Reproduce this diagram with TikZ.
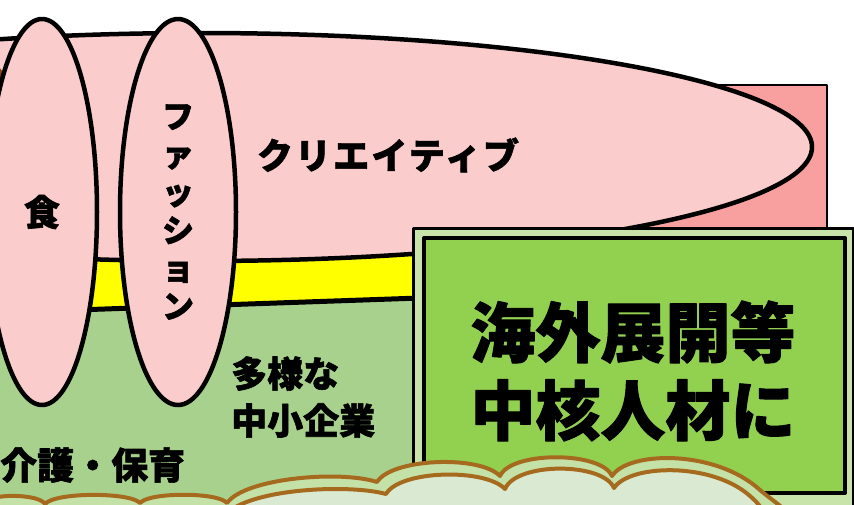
\documentclass[tikz,border=0pt]{standalone}
\usepackage{fontspec}
\usetikzlibrary{shapes.geometric}
\newfontfamily\jp{Noto Sans CJK JP}[BoldFeatures={FakeBold=1.6}]
\definecolor{pinkL}{RGB}{250,204,204}
\definecolor{salmon}{RGB}{248,160,160}
\definecolor{greenL}{RGB}{169,209,142}
\definecolor{boxG}{RGB}{146,208,80}
\definecolor{boxPale}{RGB}{200,228,170}
\definecolor{yel}{RGB}{255,255,0}
\definecolor{brownC}{RGB}{166,106,30}
\definecolor{blob}{RGB}{140,70,20}
\definecolor{cloudA}{RGB}{196,225,168}
\definecolor{cloudB}{RGB}{218,234,210}
\tikzset{
  oval/.style={ellipse, draw, line width=4.5pt, fill=pinkL, inner sep=0pt},
  jptext/.style={text=black, inner sep=0pt},
  cloudline/.style={draw=brownC, line width=4pt},
}
\begin{document}
\begin{tikzpicture}[x=1pt,y=-1pt,line join=round]
\useasboundingbox (0,0) rectangle (854,504);
\clip (0,0) rectangle (854,504);
\fill[white] (0,0) rectangle (854,504);
% salmon background rectangle
\draw[fill=salmon, line width=2pt] (300,85) rectangle (827,300);
% green lower-left area
\fill[greenL] (-10,290) rectangle (430,520);
% yellow band
\fill[yel] (-10,240) -- (420,240) -- (420,298) -- (-10,313) -- cycle;
\draw[line width=5pt] (-10,313) -- (420,298);
% big creative ellipse
\draw[fill=pinkL, line width=4.5pt] (200,147) ellipse [x radius=612pt, y radius=114pt];
% brown blob at left edge
\fill[blob] (-18,83) ellipse [x radius=25pt, y radius=21pt];
% small ellipses
\node[oval, minimum width=110pt, minimum height=386pt,
      font={\jp\bfseries\fontsize{36pt}{36pt}\selectfont}] (shoku) at (42,212) {食};
\node[oval, minimum width=116pt, minimum height=386pt, align=center,
      font={\jp\bfseries\fontsize{32pt}{38pt}\selectfont}] (fashion) at (178,212) {フ\\ァ\\ッ\\シ\\ョ\\ン};
% texts
\node[jptext, font={\jp\bfseries\fontsize{36pt}{36pt}\selectfont\addfontfeatures{LetterSpace=6}}] (creative) at (388,155) {クリエイティブ};
\node[jptext, anchor=west, align=left, font={\jp\bfseries\fontsize{36pt}{47pt}\selectfont}] (sme) at (231,397) {多様な\\中小企業};
\node[jptext, anchor=west, font={\jp\bfseries\fontsize{37pt}{37pt}\selectfont}] (care) at (0,465) {介護・保育};
% green box
\draw[fill=boxPale, line width=3pt] (413,228) rectangle (853,520);
\node[draw, line width=4pt, fill=boxG, minimum width=421pt, minimum height=255pt, inner sep=0pt] (box) at (634.5,365.5) {};
\node[jptext, align=center, font={\jp\bfseries\fontsize{65pt}{78pt}\selectfont}] (core) at (633,371) {海外展開等\\中核人材に};
% clouds
\draw[cloudline, fill=cloudA]
  (-10,530) -- (-10,500)
  .. controls (-4,494) and (39,494) .. (45,504)
  .. controls (55,492) and (130,492) .. (140,503)
  .. controls (149,492) and (218,492) .. (227,503)
  .. controls (245,478) and (340,470) .. (377,482)
  .. controls (392,458) and (480,455) .. (500,476)
  .. controls (511,451) and (601,451) .. (612,476)
  .. controls (628,451) and (715,449) .. (760,490)
  .. controls (775,503) and (790,510) .. (800,530)
  -- cycle;
\draw[cloudline, fill=cloudB]
  (225,530) -- (225,515)
  .. controls (250,488) and (350,484) .. (386,494)
  .. controls (400,470) and (485,468) .. (505,489)
  .. controls (516,462) and (603,462) .. (614,488)
  .. controls (630,464) and (712,462) .. (750,496)
  .. controls (758,503) and (765,510) .. (772,530)
  -- cycle;
\end{tikzpicture}
\end{document}
